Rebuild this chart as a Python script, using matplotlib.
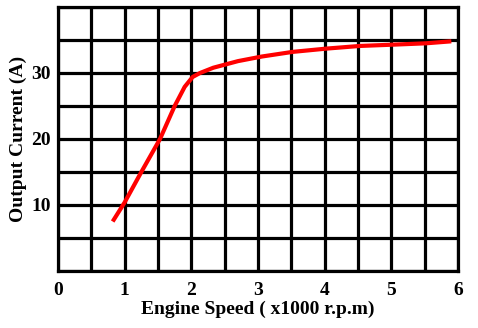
import numpy as np
import matplotlib.pyplot as plt
from matplotlib.ticker import MultipleLocator

# ==== data ====
speed = [0.82, 1.0, 1.25, 1.53, 1.75, 1.9, 2.02, 2.13, 2.33, 2.7, 3.06, 3.52, 4.03, 4.53, 5.04, 5.52, 5.9]
current = [7.5, 10.4, 15.0, 20.0, 25.0, 27.9, 29.4, 30.0, 30.8, 31.8, 32.5, 33.2, 33.7, 34.1, 34.3, 34.5, 34.8]
x_ticks = [0, 1, 2, 3, 4, 5, 6]
y_ticks = [10, 20, 30]

plt.rcParams["font.family"] = ["Liberation Serif", "DejaVu Serif"]
plt.rcParams["font.weight"] = "bold"

fig = plt.figure(figsize=(4.78, 3.28), dpi=100)
ax = fig.add_axes([58/478, 1 - 271/328, 400/478, 264/328])

ax.plot(speed, current, color="#ff0000", linewidth=3.0, solid_capstyle="butt", zorder=3)

ax.set_xlim(0, 6)
ax.set_ylim(0, 40)
ax.set_xticks(x_ticks)
ax.set_yticks(y_ticks)
ax.xaxis.set_minor_locator(MultipleLocator(0.5))
ax.yaxis.set_minor_locator(MultipleLocator(5))
ax.grid(which="both", color="black", linewidth=2.3)
ax.set_axisbelow(True)
ax.tick_params(which="both", length=0)
ax.tick_params(axis="x", pad=8, labelsize=14)
ax.tick_params(axis="y", pad=5, labelsize=14)
for s in ax.spines.values():
    s.set_linewidth(2.3)

ax.set_xlabel("Engine Speed ( x1000 r.p.m)", fontsize=14, fontweight="bold", labelpad=1)
ax.set_ylabel("Output Current (A)", fontsize=14, fontweight="bold", labelpad=3)

fig.savefig("out.png", dpi=100)
